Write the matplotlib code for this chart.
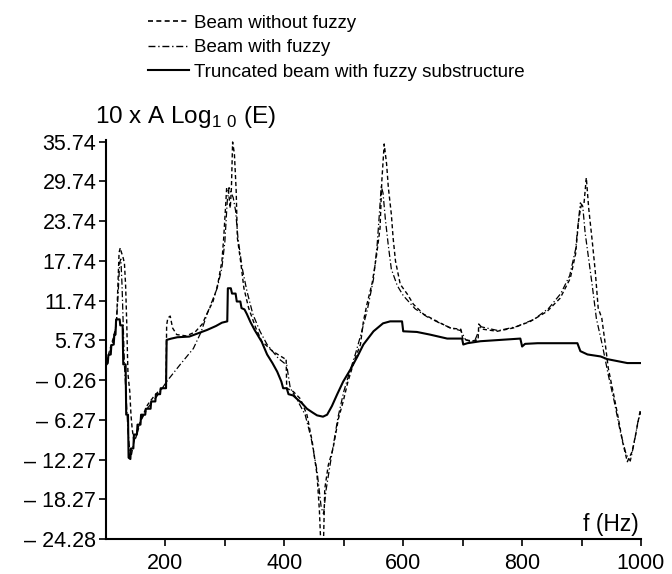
import matplotlib
matplotlib.use('Agg')
import matplotlib.pyplot as plt
from matplotlib.lines import Line2D

plt.rcParams['font.family'] = ['Liberation Sans', 'DejaVu Sans']

# Beam without fuzzy (dashed)
f_wo = [100, 104, 107, 112, 116, 118, 120, 122, 124, 126, 128, 131, 133, 135, 136, 137,
        140, 142, 144, 147, 150, 155, 160, 170, 180, 190, 201, 202, 204, 208, 212, 219,
        235, 250, 262, 270, 280, 288, 295, 298, 301, 303, 306, 309, 311, 313, 316, 319,
        321, 327, 332, 340, 352, 362, 380, 400, 403, 404, 415, 427, 438, 447, 455, 459,
        461, 466, 468, 474, 482, 491, 499, 507, 519, 528, 533, 539, 548, 555, 561, 564,
        568, 572, 575, 580, 583, 587, 595, 607, 617, 634, 657, 679, 697, 700, 712, 726,
        727, 735, 758, 785, 814, 842, 864, 881, 890, 895, 899, 904, 908, 912, 918, 923,
        928, 934, 940, 945, 953, 962, 969, 977, 985, 991, 999]
e_wo = [2.5, 3.5, 4.5, 6.0, 7.5, 9.0, 14.0, 19.0, 19.7, 19.0, 18.5, 17.4, 14.0, 8.0, 4.0, 0.6,
        -2.0, -5.5, -7.6, -9.5, -9.0, -7.5, -6.0, -4.0, -2.8, -1.8, -1.2, 8.0, 9.1, 9.4, 7.6, 6.6,
        6.4, 7.0, 8.2, 9.8, 11.6, 14.2, 17.7, 21.2, 25.7, 28.8, 28.3, 25.7, 28.8, 35.7, 33.9, 28.3,
        21.2, 17.3, 13.6, 10.6, 7.6, 5.6, 4.1, 3.0, 3.0, -1.5, -2.0, -3.1, -5.5, -9.6, -14.6, -20.0,
        -24.28, -24.28, -16.7, -13.1, -10.6, -6.1, -3.5, -0.5, 3.0, 5.1, 8.6, 11.2, 14.5, 18.5, 22.7, 29.8,
        35.4, 32.4, 28.8, 24.8, 21.2, 17.7, 14.2, 12.7, 11.2, 9.7, 8.6, 7.6, 7.4, 6.0, 5.6, 5.8,
        8.2, 7.4, 7.1, 7.6, 8.6, 10.1, 12.1, 15.1, 18.8, 23.8, 26.0, 26.3, 30.3, 25.7, 20.7, 16.2,
        10.6, 9.1, 5.1, 1.5, -2.0, -6.1, -9.6, -12.6, -11.1, -8.5, -4.7]

# Beam with fuzzy (dash-dot)
f_w = [100, 104, 108, 113, 117, 120, 123, 125, 127, 129, 131, 134, 137, 140, 143, 146,
       150, 158, 170, 185, 202, 225, 247, 260, 270, 287, 295, 300, 304, 307, 309, 314,
       318, 322, 329, 337, 347, 359, 371, 390, 404, 410, 420, 435, 445, 455, 462, 466,
       470, 478, 490, 500, 510, 520, 530, 540, 550, 556, 560, 563, 566, 570, 575, 580,
       590, 600, 620, 640, 660, 680, 697, 705, 720, 730, 760, 790, 820, 845, 865, 880,
       890, 895, 898, 902, 906, 912, 918, 925, 935, 945, 955, 965, 975, 982, 988, 995, 1000]
e_w = [2.3, 3.2, 4.5, 6.0, 8.0, 12.0, 17.5, 18.0, 14.0, 8.0, 2.0, -3.0, -8.0, -11.0, -11.5, -10.0,
       -8.5, -6.5, -4.5, -2.8, -0.5, 2.1, 4.5, 7.0, 9.7, 13.6, 16.7, 20.7, 26.8, 28.8, 28.3, 27.3,
       25.3, 21.2, 16.7, 13.2, 9.7, 7.1, 5.1, 3.0, 2.0, -1.5, -3.0, -5.5, -9.0, -14.0, -19.5, -20.5,
       -17.0, -12.5, -6.0, -2.0, 1.0, 3.8, 7.0, 10.5, 15.0, 20.0, 25.0, 29.0, 28.0, 24.0, 20.0, 16.5,
       14.0, 12.5, 10.5, 9.3, 8.4, 7.6, 7.2, 5.8, 5.6, 7.8, 7.2, 7.8, 8.9, 10.6, 12.8, 15.5,
       19.5, 24.0, 26.5, 26.0, 22.0, 18.0, 14.0, 9.0, 5.0, 0.5, -3.5, -8.0, -11.5, -12.5, -10.0, -6.5, -5.0]

# Truncated beam with fuzzy substructure (solid)
f_tr = [100, 103, 104, 108, 109, 113, 114, 116, 117, 123, 124, 128, 129, 133, 134, 137,
        138, 141, 142, 146, 147, 152, 153, 158, 159, 166, 167, 175, 176, 183, 184, 191,
        192, 201, 202, 210, 220, 240, 255, 270, 285, 295, 304, 305, 310, 312, 318, 320,
        326, 328, 333, 337, 343, 350, 356, 362, 371, 380, 388, 395, 398, 404, 407, 415,
        421, 430, 438, 448, 455, 465, 472, 480, 489, 499, 511, 523, 533, 550, 566, 578,
        598, 600, 623, 645, 674, 699, 701, 708, 730, 797, 800, 805, 826, 893, 898, 910,
        932, 943, 977, 1000]
e_tr = [2.0, 2.3, 3.5, 3.6, 5.0, 5.1, 6.6, 6.6, 8.9, 8.9, 8.0, 8.0, 2.1, 2.1, -5.5, -5.5,
        -12.0, -12.2, -10.6, -10.6, -8.5, -8.5, -7.0, -7.0, -5.5, -5.5, -4.6, -4.6, -3.5, -3.5, -2.4, -2.4,
        -1.5, -1.5, 5.8, 6.0, 6.2, 6.3, 6.8, 7.3, 7.9, 8.4, 8.6, 13.6, 13.6, 12.8, 12.8, 11.6,
        11.6, 10.6, 10.4, 9.7, 8.5, 7.3, 6.4, 5.5, 3.6, 2.3, 1.0, -0.5, -1.5, -1.5, -2.4, -2.6,
        -3.1, -3.8, -4.6, -5.2, -5.6, -5.8, -5.5, -4.2, -2.4, -0.5, 1.3, 3.3, 5.1, 7.1, 8.3, 8.6,
        8.6, 7.1, 7.0, 6.6, 6.0, 6.0, 5.1, 5.3, 5.6, 6.0, 4.8, 5.2, 5.3, 5.3, 4.1, 3.6,
        3.3, 2.9, 2.3, 2.3]

y_ticks = [35.74, 29.74, 23.74, 17.74, 11.74, 5.73, -0.26, -6.27, -12.27, -18.27, -24.28]
y_labels = ['35.74', '29.74', '23.74', '17.74', '11.74', '5.73', '\u2013 0.26', '\u2013 6.27',
            '\u2013 12.27', '\u2013 18.27', '\u2013 24.28']
x_major = [200, 400, 600, 800, 1000]
x_minor = [300, 500, 700, 900]

fig = plt.figure(figsize=(6.72, 5.74), dpi=100)
ax = fig.add_axes([106 / 672, 1 - 539 / 574, 535 / 672, 399 / 574])

ax.plot(f_wo, e_wo, color='black', lw=1.0, dashes=(3, 2))
ax.plot(f_w, e_w, color='black', lw=0.9, dashes=(5, 2, 1, 2))
ax.plot(f_tr, e_tr, color='black', lw=1.5)

ax.set_xlim(100, 1000)
ax.set_ylim(-24.28, 36.0)
ax.spines['top'].set_visible(False)
ax.spines['right'].set_visible(False)
ax.spines['left'].set_linewidth(1.5)
ax.spines['bottom'].set_linewidth(1.5)

ax.set_yticks(y_ticks)
ax.set_yticklabels(y_labels, fontsize=15.5)
ax.set_xticks(x_major)
ax.set_xticklabels([str(v) for v in x_major], fontsize=15.5)
ax.set_xticks(x_minor, minor=True)
ax.tick_params(axis='both', which='both', direction='out', length=5, width=1.2)
ax.tick_params(axis='x', pad=5)
ax.tick_params(axis='y', pad=2)

ax.text(0.995, 0.008, 'f (Hz)', transform=ax.transAxes, ha='right', va='bottom', fontsize=16.5)
fig.text(95 / 672, 1 - 117 / 574, '10 x A Log$_{\\mathregular{1\\ 0}}$ (E)', ha='left', va='center',
         fontsize=17.5)

handles = [Line2D([], [], color='black', lw=1.2, dashes=(3, 2)),
           Line2D([], [], color='black', lw=1.0, dashes=(5, 2, 1, 2)),
           Line2D([], [], color='black', lw=1.5)]
labels = ['Beam without fuzzy', 'Beam with fuzzy', 'Truncated beam with fuzzy substructure']
fig.legend(handles, labels, loc='upper left', bbox_to_anchor=(140 / 672, 1 - 7 / 574),
           frameon=False, fontsize=13.5, handlelength=2.2, handletextpad=0.3,
           labelspacing=0.4, borderaxespad=0)

fig.savefig('out.png', dpi=100, facecolor='w')
plt.close(fig)
